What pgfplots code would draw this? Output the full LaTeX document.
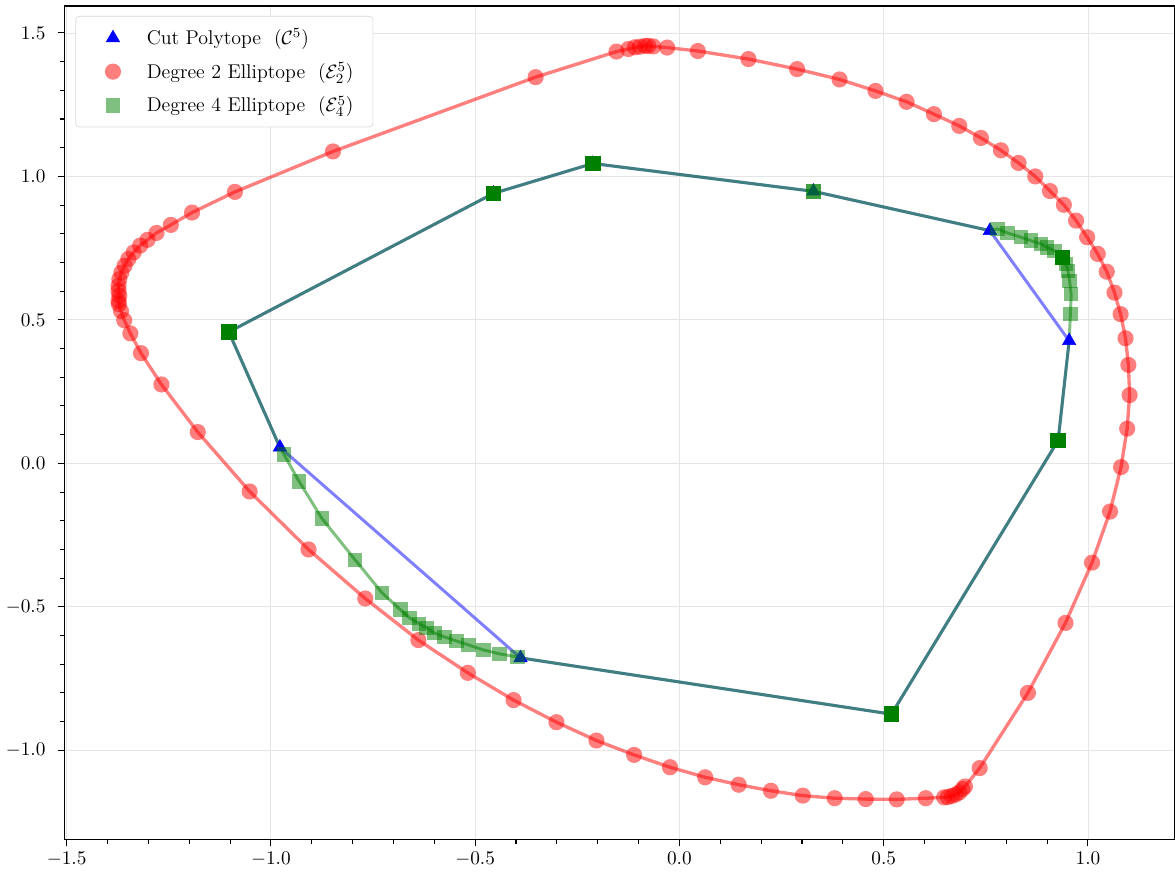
\documentclass[border=0pt]{standalone}
\usepackage{pgfplots}
\pgfplotsset{compat=1.18}
\definecolor{mgreen}{rgb}{0,0.5,0}
\begin{document}
\begin{tikzpicture}
\begin{axis}[
  scale only axis, width=631pt, height=474pt,
  xmin=-1.5056, xmax=1.2116, ymin=-1.312, ymax=1.594,
  xtick={-1.5,-1.0,-0.5,0,0.5,1.0},
  ytick={-1.0,-0.5,0,0.5,1.0,1.5},
  minor x tick num=4, minor y tick num=4,
  tick align=outside, tick pos=left,
  major tick length=3.7pt, minor tick length=2.3pt,
  every tick/.style={black, line width=0.6pt},
  grid=major, major grid style={line width=0.5pt, black!10},
  axis line style={line width=0.7pt},
  ticklabel style={font=\fontsize{10.5}{12}\selectfont},
  xticklabel style={/pgf/number format/.cd, fixed, fixed zerofill, precision=1},
  yticklabel style={/pgf/number format/.cd, fixed, fixed zerofill, precision=1, /tikz/xshift=-3.5pt},
  legend cell align=left,
  legend image code/.code={\path (-4pt,0pt) (16pt,0pt); \draw[mark repeat=2, mark phase=2, #1] plot coordinates {(0pt,0pt) (8pt,0pt) (16pt,0pt)};},
  legend style={at={(0.0099,0.988)}, anchor=north west, draw=black!15, rounded corners=2pt,
    fill=white, font=\fontsize{11.3}{14}\selectfont, row sep=4.5pt, inner xsep=9pt, inner ysep=5pt,
    /tikz/every even column/.append style={column sep=0pt},
    /tikz/every odd column/.append style={column sep=9pt}},
]
% cut polytope edges
\addplot[blue, opacity=0.5, line width=1.7pt, forget plot] coordinates {
(-0.978,0.056) (-1.103,0.458) (-0.455,0.941) (-0.212,1.045) (0.328,0.948)
(0.760,0.811) (0.954,0.427) (0.927,0.080) (0.519,-0.874) (-0.389,-0.678) (-0.978,0.056)};
% cut polytope vertices
\addplot[only marks, mark=triangle*, mark size=4.4pt, color=blue, mark options={fill=blue, draw=blue, line width=0.3pt}] coordinates {
(-1.103,0.458) (-0.455,0.941) (-0.212,1.045) (0.328,0.948) (0.760,0.811)
(0.954,0.427) (0.927,0.080) (0.519,-0.874) (-0.389,-0.678) (-0.978,0.056)};
\addlegendentry{Cut Polytope\ \ ($\mathcal{C}^5$)}
% degree 2 elliptope curve
\addplot[red, opacity=0.5, line width=1.9pt, forget plot] coordinates {
(-1.373,0.566) (-1.371,0.584) (-1.373,0.601) (-1.373,0.619) (-1.371,0.642)
(-1.366,0.665) (-1.358,0.689) (-1.349,0.712) (-1.336,0.735) (-1.320,0.759)
(-1.302,0.779) (-1.280,0.803) (-1.245,0.831) (-1.193,0.874) (-1.088,0.946)
(-0.848,1.087) (-0.352,1.346) (-0.154,1.435) (-0.125,1.444) (-0.109,1.450)
(-0.097,1.452) (-0.084,1.455) (-0.076,1.455) (-0.064,1.453) (-0.030,1.449)
(0.045,1.437) (0.169,1.409) (0.288,1.374) (0.392,1.338) (0.480,1.298)
(0.556,1.260) (0.623,1.217) (0.685,1.176) (0.738,1.134) (0.787,1.091)
(0.830,1.047) (0.871,1.000) (0.907,0.949) (0.941,0.901) (0.971,0.846)
(0.998,0.788) (1.024,0.730) (1.046,0.668) (1.065,0.595) (1.080,0.520)
(1.092,0.436) (1.099,0.343) (1.102,0.238) (1.096,0.121) (1.081,-0.013)
(1.054,-0.168) (1.010,-0.346) (0.945,-0.556) (0.853,-0.800) (0.735,-1.062)
(0.699,-1.126) (0.693,-1.135) (0.685,-1.147) (0.676,-1.154) (0.667,-1.159)
(0.657,-1.163) (0.648,-1.164) (0.603,-1.167) (0.532,-1.171) (0.456,-1.170)
(0.380,-1.167) (0.302,-1.158) (0.224,-1.141) (0.145,-1.120) (0.063,-1.094)
(-0.023,-1.059) (-0.111,-1.016) (-0.203,-0.966) (-0.301,-0.902) (-0.406,-0.825)
(-0.518,-0.730) (-0.639,-0.616) (-0.769,-0.471) (-0.908,-0.300) (-1.052,-0.098)
(-1.179,0.109) (-1.268,0.275) (-1.318,0.384) (-1.344,0.453) (-1.359,0.499)
(-1.367,0.531) (-1.372,0.555) (-1.373,0.566)};
\addplot[only marks, mark=*, mark size=4.6pt, color=red, mark options={fill=red, draw opacity=0, fill opacity=0.5}] coordinates {
(-1.373,0.566) (-1.371,0.584) (-1.373,0.601) (-1.373,0.619) (-1.371,0.642)
(-1.366,0.665) (-1.358,0.689) (-1.349,0.712) (-1.336,0.735) (-1.320,0.759)
(-1.302,0.779) (-1.280,0.803) (-1.245,0.831) (-1.193,0.874) (-1.088,0.946)
(-0.848,1.087) (-0.352,1.346) (-0.154,1.435) (-0.125,1.444) (-0.109,1.450)
(-0.097,1.452) (-0.084,1.455) (-0.076,1.455) (-0.064,1.453) (-0.030,1.449)
(0.045,1.437) (0.169,1.409) (0.288,1.374) (0.392,1.338) (0.480,1.298)
(0.556,1.260) (0.623,1.217) (0.685,1.176) (0.738,1.134) (0.787,1.091)
(0.830,1.047) (0.871,1.000) (0.907,0.949) (0.941,0.901) (0.971,0.846)
(0.998,0.788) (1.024,0.730) (1.046,0.668) (1.065,0.595) (1.080,0.520)
(1.092,0.436) (1.099,0.343) (1.102,0.238) (1.096,0.121) (1.081,-0.013)
(1.054,-0.168) (1.010,-0.346) (0.945,-0.556) (0.853,-0.800) (0.735,-1.062)
(0.699,-1.126) (0.693,-1.135) (0.685,-1.147) (0.676,-1.154) (0.667,-1.159)
(0.657,-1.163) (0.648,-1.164) (0.603,-1.167) (0.532,-1.171) (0.456,-1.170)
(0.380,-1.167) (0.302,-1.158) (0.224,-1.141) (0.145,-1.120) (0.063,-1.094)
(-0.023,-1.059) (-0.111,-1.016) (-0.203,-0.966) (-0.301,-0.902) (-0.406,-0.825)
(-0.518,-0.730) (-0.639,-0.616) (-0.769,-0.471) (-0.908,-0.300) (-1.052,-0.098)
(-1.179,0.109) (-1.268,0.275) (-1.318,0.384) (-1.344,0.453) (-1.359,0.499)
(-1.367,0.531) (-1.372,0.555)};
\addlegendentry{Degree 2 Elliptope\ \ ($\mathcal{E}_2^5$)}
% degree 4 elliptope curve
\addplot[mgreen, opacity=0.5, line width=1.7pt, forget plot] coordinates {
(-1.103,0.458) (-0.978,0.056) (-0.968,0.031) (-0.931,-0.063) (-0.875,-0.192)
(-0.794,-0.336) (-0.728,-0.451) (-0.683,-0.510) (-0.661,-0.538) (-0.637,-0.559)
(-0.619,-0.573) (-0.600,-0.591) (-0.575,-0.605) (-0.546,-0.619) (-0.516,-0.633)
(-0.480,-0.650) (-0.440,-0.664) (-0.396,-0.675) (-0.389,-0.678) (0.519,-0.874)
(0.927,0.080) (0.954,0.427) (0.957,0.520) (0.959,0.590) (0.955,0.636)
(0.951,0.671) (0.946,0.695) (0.938,0.718) (0.918,0.741) (0.900,0.753)
(0.885,0.765) (0.861,0.776) (0.836,0.788) (0.803,0.803) (0.779,0.817)
(0.760,0.811) (0.328,0.948) (-0.212,1.045) (-0.455,0.941) (-1.103,0.458)};
\addplot[only marks, mark=square*, mark size=4.1pt, color=mgreen, mark options={fill=mgreen, draw opacity=0, fill opacity=0.5}] coordinates {
(-0.968,0.031) (-0.931,-0.063) (-0.875,-0.192)
(-0.794,-0.336) (-0.728,-0.451) (-0.683,-0.510) (-0.661,-0.538) (-0.637,-0.559)
(-0.619,-0.573) (-0.600,-0.591) (-0.575,-0.605) (-0.546,-0.619) (-0.516,-0.633)
(-0.480,-0.650) (-0.440,-0.664) (-0.396,-0.675)
(0.957,0.520) (0.959,0.590) (0.955,0.636)
(0.951,0.671) (0.946,0.695) (0.918,0.741) (0.900,0.753)
(0.885,0.765) (0.861,0.776) (0.836,0.788) (0.803,0.803) (0.779,0.817)
(0.328,0.948) (0.328,0.948)};
\addlegendentry{Degree 4 Elliptope\ \ ($\mathcal{E}_4^5$)}
\addplot[only marks, mark=square*, mark size=4.4pt, color=mgreen, mark options={fill=mgreen, draw opacity=0}, forget plot] coordinates {
(-1.103,0.458) (-0.455,0.941) (-0.212,1.045) (0.938,0.718) (0.927,0.080) (0.519,-0.874)};
\end{axis}
\path ([yshift=3.4pt]current axis.north);
\end{tikzpicture}
\end{document}
